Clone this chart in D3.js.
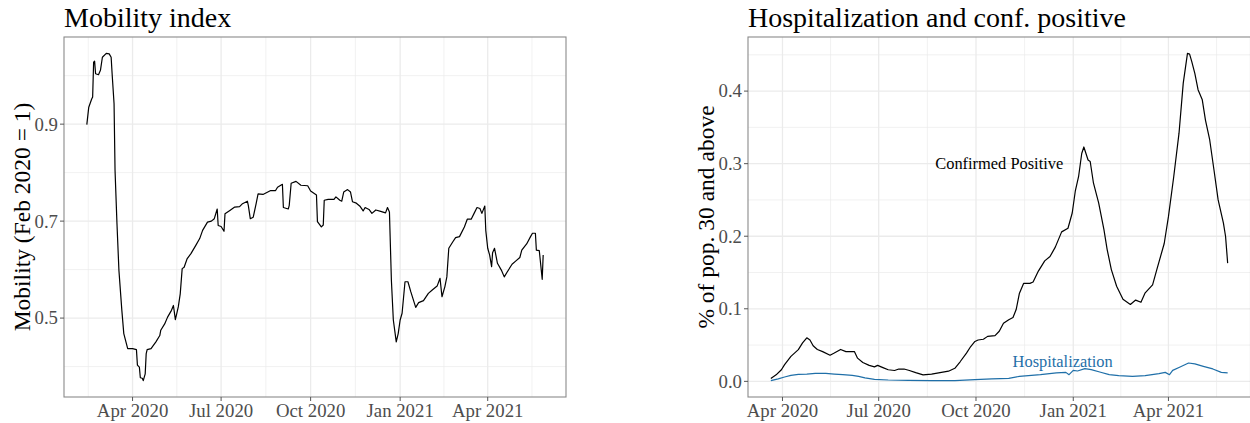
<!DOCTYPE html>
<html>
<head>
<meta charset="utf-8">
<script src="https://cdn.jsdelivr.net/npm/d3@7"></script>
<style>
  body { margin: 0; background: #fff; }
  text { font-family: "Liberation Serif", "Times New Roman", serif; }
</style>
</head>
<body>
<svg id="chart" width="1250" height="423"></svg>
<script>
// mobility index
const mobilityDates = [
  "2020-02-14","2020-02-16","2020-02-19","2020-02-20","2020-02-21","2020-02-22","2020-02-23","2020-02-26","2020-02-28","2020-03-01",
  "2020-03-05","2020-03-08","2020-03-10","2020-03-11","2020-03-13","2020-03-14","2020-03-16","2020-03-18","2020-03-21","2020-03-23",
  "2020-03-27","2020-04-01","2020-04-05","2020-04-06","2020-04-08","2020-04-09","2020-04-11","2020-04-12","2020-04-14","2020-04-15",
  "2020-04-16","2020-04-20","2020-04-25","2020-04-29","2020-04-30","2020-05-04","2020-05-07","2020-05-11","2020-05-13","2020-05-15",
  "2020-05-18","2020-05-20","2020-05-22","2020-05-24","2020-05-27","2020-05-31","2020-06-05","2020-06-09","2020-06-12","2020-06-17",
  "2020-06-21","2020-06-24","2020-06-27","2020-06-28","2020-07-01","2020-07-04","2020-07-05","2020-07-10","2020-07-15","2020-07-20",
  "2020-07-23","2020-07-28","2020-07-29","2020-07-31","2020-08-03","2020-08-06","2020-08-08","2020-08-13","2020-08-16","2020-08-21",
  "2020-08-26","2020-08-28","2020-09-02","2020-09-03","2020-09-08","2020-09-09","2020-09-11","2020-09-16","2020-09-21","2020-09-28",
  "2020-10-01","2020-10-07","2020-10-08","2020-10-12","2020-10-14","2020-10-15","2020-10-19","2020-10-25","2020-10-27","2020-10-31",
  "2020-11-02","2020-11-04","2020-11-08","2020-11-11","2020-11-13","2020-11-17","2020-11-21","2020-11-24","2020-11-26","2020-11-30",
  "2020-12-03","2020-12-07","2020-12-12","2020-12-17","2020-12-19","2020-12-21","2020-12-23","2020-12-25","2020-12-28","2020-12-30",
  "2021-01-01","2021-01-03","2021-01-06","2021-01-09","2021-01-12","2021-01-17","2021-01-20","2021-01-25","2021-01-30","2021-02-03",
  "2021-02-08","2021-02-11","2021-02-13","2021-02-16","2021-02-18","2021-02-20","2021-02-24","2021-02-27","2021-03-03","2021-03-08",
  "2021-03-11","2021-03-15","2021-03-18","2021-03-21","2021-03-24","2021-03-26","2021-03-29","2021-03-30","2021-04-01","2021-04-03",
  "2021-04-05","2021-04-06","2021-04-08","2021-04-11","2021-04-15","2021-04-18","2021-04-21","2021-04-26","2021-04-30","2021-05-04",
  "2021-05-06","2021-05-11","2021-05-15","2021-05-17","2021-05-20","2021-05-21","2021-05-24","2021-05-27","2021-05-28"
];
const mobilityValues = [
  0.899,0.935,0.952,0.956,1.028,1.030,1.004,1.002,1.011,1.038,
  1.046,1.045,1.038,1.004,0.942,0.805,0.694,0.598,0.516,0.468,
  0.437,0.437,0.435,0.403,0.399,0.377,0.376,0.371,0.385,0.426,
  0.435,0.437,0.451,0.464,0.475,0.488,0.502,0.516,0.526,0.497,
  0.523,0.550,0.602,0.605,0.622,0.633,0.650,0.664,0.681,0.698,
  0.700,0.705,0.725,0.691,0.689,0.679,0.715,0.722,0.729,0.730,
  0.736,0.741,0.732,0.705,0.708,0.736,0.756,0.755,0.758,0.763,
  0.763,0.770,0.776,0.728,0.725,0.732,0.778,0.782,0.774,0.773,
  0.762,0.754,0.699,0.688,0.692,0.743,0.745,0.745,0.750,0.743,
  0.741,0.760,0.765,0.760,0.740,0.737,0.730,0.721,0.728,0.724,
  0.716,0.723,0.720,0.717,0.728,0.719,0.578,0.496,0.451,0.468,
  0.496,0.510,0.575,0.575,0.554,0.522,0.532,0.536,0.551,0.558,
  0.566,0.582,0.544,0.565,0.585,0.644,0.657,0.666,0.668,0.688,
  0.704,0.704,0.716,0.728,0.726,0.716,0.731,0.681,0.644,0.630,
  0.606,0.635,0.644,0.613,0.599,0.585,0.595,0.611,0.618,0.625,
  0.640,0.653,0.668,0.675,0.675,0.640,0.639,0.580,0.630
];

// confirmed positive, % of pop. 30+
const positiveDates = [
  "2020-03-21","2020-03-26","2020-03-31","2020-04-03","2020-04-09","2020-04-16","2020-04-20","2020-04-24","2020-04-27","2020-04-30",
  "2020-05-04","2020-05-09","2020-05-16","2020-05-20","2020-05-26","2020-05-31","2020-06-08","2020-06-11","2020-06-16","2020-06-22",
  "2020-06-27","2020-06-30","2020-07-05","2020-07-10","2020-07-16","2020-07-20","2020-07-25","2020-07-30","2020-08-05","2020-08-12",
  "2020-08-20","2020-08-28","2020-09-05","2020-09-11","2020-09-16","2020-09-22","2020-09-26","2020-09-30","2020-10-03","2020-10-08",
  "2020-10-12","2020-10-19","2020-10-23","2020-10-27","2020-11-01","2020-11-05","2020-11-08","2020-11-11","2020-11-15","2020-11-21",
  "2020-11-24","2020-11-29","2020-12-05","2020-12-10","2020-12-15","2020-12-21","2020-12-27","2020-12-31","2021-01-03","2021-01-06",
  "2021-01-09","2021-01-11","2021-01-15","2021-01-17","2021-01-20","2021-01-25","2021-01-30","2021-02-02","2021-02-06","2021-02-11",
  "2021-02-17","2021-02-24","2021-03-01","2021-03-06","2021-03-10","2021-03-17","2021-03-21","2021-03-28","2021-04-01","2021-04-06",
  "2021-04-11","2021-04-15","2021-04-19","2021-04-21","2021-04-23","2021-04-26","2021-04-29","2021-05-03","2021-05-06","2021-05-10",
  "2021-05-14","2021-05-18","2021-05-23","2021-05-25","2021-05-27"
];
const positiveValues = [
  0.004,0.009,0.016,0.023,0.0345,0.0437,0.053,0.060,0.057,0.049,
  0.044,0.041,0.036,0.039,0.044,0.041,0.041,0.032,0.026,0.022,
  0.020,0.022,0.019,0.016,0.015,0.017,0.017,0.015,0.012,0.009,
  0.010,0.012,0.014,0.018,0.027,0.039,0.048,0.055,0.057,0.058,
  0.062,0.063,0.069,0.080,0.085,0.088,0.099,0.121,0.135,0.135,
  0.137,0.152,0.166,0.172,0.185,0.206,0.211,0.232,0.263,0.282,
  0.314,0.323,0.305,0.303,0.274,0.246,0.209,0.182,0.154,0.131,
  0.113,0.106,0.112,0.109,0.122,0.133,0.154,0.190,0.227,0.282,
  0.342,0.411,0.452,0.451,0.441,0.424,0.402,0.388,0.360,0.333,
  0.292,0.250,0.218,0.200,0.163
];

// hospitalization, % of pop. 30+
const hospDates = [
  "2020-03-21","2020-03-28","2020-04-03","2020-04-09","2020-04-16","2020-04-24","2020-05-02","2020-05-12","2020-05-20","2020-05-28",
  "2020-06-06","2020-06-12","2020-06-18","2020-06-27","2020-07-10","2020-07-29","2020-08-20","2020-09-11","2020-09-30","2020-10-16",
  "2020-11-01","2020-11-11","2020-12-01","2020-12-16","2020-12-25","2020-12-28","2021-01-01","2021-01-05","2021-01-12","2021-01-18",
  "2021-01-26","2021-02-04","2021-02-13","2021-02-26","2021-03-10","2021-03-23","2021-03-29","2021-04-02","2021-04-05","2021-04-12",
  "2021-04-20","2021-04-26","2021-05-04","2021-05-13","2021-05-21","2021-05-27"
];
const hospValues = [
  0.001,0.0035,0.006,0.0083,0.0096,0.010,0.011,0.011,0.010,0.0092,
  0.0083,0.0069,0.0047,0.0028,0.0019,0.0014,0.001,0.001,0.0023,0.0033,
  0.0041,0.0069,0.0092,0.0116,0.0124,0.0092,0.0152,0.0143,0.0175,0.0161,
  0.0129,0.0092,0.0078,0.0069,0.0078,0.0106,0.0124,0.0092,0.0152,0.0198,
  0.0253,0.024,0.0207,0.0171,0.0124,0.0116
];

const xBreaks = ["2020-01-01","2020-04-01","2020-07-01","2020-10-01","2021-01-01","2021-04-01","2021-07-01"];
const xLabels = ["Jan 2020","Apr 2020","Jul 2020","Oct 2020","Jan 2021","Apr 2021","Jul 2021"];
const mobilityBreaks = [0.3, 0.5, 0.7, 0.9, 1.1];
const positiveBreaks = [-0.1, 0, 0.1, 0.2, 0.3, 0.4, 0.5];

const titles = ["Mobility index", "Hospitalization and conf. positive"];
const yTitles = ["Mobility (Feb 2020 = 1)", "% of pop. 30 and above"];
const labelTexts = ["Confirmed Positive", "Hospitalization"];
const labelDates = ["2020-10-23", "2020-12-22"];
const labelValues = [0.30, 0.027];

const parse = d3.utcParse("%Y-%m-%d");
const svg = d3.select("#chart");

const BLUE = "#1f6fa8";
const GRID = "#ebebeb";

// ggplot-style 5% expansion (works on numbers and dates)
function expand(ext) {
    const lo = +ext[0], hi = +ext[1];
    const pad = (hi - lo) * 0.05;
    return [lo - pad, hi + pad];
}

function midpoints(arr) {
    const out = [];
    for (let i = 0; i < arr.length - 1; i++) out.push((+arr[i] + +arr[i + 1]) / 2);
    return out;
}

function zipSeries(dates, values) {
    return dates.map((d, i) => ({date: parse(d), value: values[i]}));
}

function drawPanel(p) {
    const g = svg.append("g");
    const x = d3.scaleUtc().domain(expand(p.xExtent)).range([p.left, p.right]);
    const y = d3.scaleLinear().domain(expand(p.yExtent)).range([p.bottom, p.top]);

    const xb = xBreaks.map(parse);
    const xd = x.domain().map(Number), yd = y.domain();
    const inX = v => +v >= xd[0] && +v <= xd[1];
    const inY = v => v >= yd[0] && v <= yd[1];

    // minor grid
    g.selectAll(".xminor").data(midpoints(xb).filter(inX)).enter().append("line")
        .attr("x1", d => x(d)).attr("x2", d => x(d))
        .attr("y1", p.top).attr("y2", p.bottom)
        .style("stroke", GRID).style("stroke-width", 0.7);
    g.selectAll(".yminor").data(midpoints(p.yBreaks).filter(inY)).enter().append("line")
        .attr("x1", p.left).attr("x2", p.right)
        .attr("y1", d => y(d)).attr("y2", d => y(d))
        .style("stroke", GRID).style("stroke-width", 0.7);

    // major grid
    const xMajor = xb.map((d, i) => ({d, label: xLabels[i]})).filter(t => inX(t.d));
    const yMajor = p.yBreaks.filter(inY);
    g.selectAll(".xmajor").data(xMajor).enter().append("line")
        .attr("x1", t => x(t.d)).attr("x2", t => x(t.d))
        .attr("y1", p.top).attr("y2", p.bottom)
        .style("stroke", GRID).style("stroke-width", 1.3);
    g.selectAll(".ymajor").data(yMajor).enter().append("line")
        .attr("x1", p.left).attr("x2", p.right)
        .attr("y1", d => y(d)).attr("y2", d => y(d))
        .style("stroke", GRID).style("stroke-width", 1.3);

    const line = d3.line().x(d => x(d.date)).y(d => y(d.value));
    p.series.forEach(s => {
        g.append("path")
            .datum(s.data)
            .attr("d", line)
            .style("fill", "none")
            .style("stroke", s.color)
            .style("stroke-width", 1.2)
            .style("stroke-linejoin", "round");
    });

    (p.labels || []).forEach(l => {
        g.append("text")
            .attr("x", x(parse(l.date)))
            .attr("y", y(l.value))
            .attr("dy", "0.34em")
            .attr("text-anchor", "middle")
            .style("font-size", "16.4px")
            .style("fill", l.color)
            .text(l.text);
    });

    // panel border
    g.append("rect")
        .attr("x", p.left).attr("y", p.top)
        .attr("width", p.right - p.left).attr("height", p.bottom - p.top)
        .style("fill", "none").style("stroke", "#8a8a8a").style("stroke-width", 1.1);

    // ticks
    g.selectAll(".xtick").data(xMajor).enter().append("line")
        .attr("x1", t => x(t.d)).attr("x2", t => x(t.d))
        .attr("y1", p.bottom).attr("y2", p.bottom + 4)
        .style("stroke", "#555").style("stroke-width", 1);
    g.selectAll(".ytick").data(yMajor).enter().append("line")
        .attr("x1", p.left - 4).attr("x2", p.left)
        .attr("y1", d => y(d)).attr("y2", d => y(d))
        .style("stroke", "#555").style("stroke-width", 1);

    g.selectAll(".xlab").data(xMajor).enter().append("text")
        .attr("x", t => x(t.d)).attr("y", p.bottom + 20)
        .attr("text-anchor", "middle")
        .style("font-size", "18.8px").style("fill", "#4d4d4d")
        .text(t => t.label);
    g.selectAll(".ylab").data(yMajor).enter().append("text")
        .attr("x", p.left - 6).attr("y", d => y(d)).attr("dy", "0.34em")
        .attr("text-anchor", "end")
        .style("font-size", "18.8px").style("fill", "#4d4d4d")
        .text(d => d3.format(".1f")(d));

    g.append("text")
        .attr("x", p.left).attr("y", 27)
        .style("font-size", "28px").style("fill", "#000")
        .text(p.title);
    g.append("text")
        .attr("transform", `translate(${p.yTitleX},${(p.top + p.bottom) / 2}) rotate(-90)`)
        .attr("text-anchor", "middle")
        .style("font-size", "23.5px").style("fill", "#000")
        .text(p.yTitle);
}

const mobility = zipSeries(mobilityDates, mobilityValues);
const positive = zipSeries(positiveDates, positiveValues);
const hosp = zipSeries(hospDates, hospValues);

drawPanel({
    left: 64, right: 566, top: 37, bottom: 397,
    xExtent: d3.extent(mobility, d => d.date),
    yExtent: d3.extent(mobility, d => d.value),
    yBreaks: mobilityBreaks,
    series: [{data: mobility, color: "#000"}],
    title: titles[0], yTitle: yTitles[0], yTitleX: 30
});

drawPanel({
    left: 748, right: 1250.5, top: 37, bottom: 397,
    xExtent: d3.extent(positive.concat(hosp), d => d.date),
    yExtent: d3.extent(positive.concat(hosp), d => d.value),
    yBreaks: positiveBreaks,
    series: [{data: positive, color: "#000"}, {data: hosp, color: BLUE}],
    labels: [
        {text: labelTexts[0], date: labelDates[0], value: labelValues[0], color: "#000"},
        {text: labelTexts[1], date: labelDates[1], value: labelValues[1], color: BLUE}
    ],
    title: titles[1], yTitle: yTitles[1], yTitleX: 714
});
</script>
</body>
</html>
